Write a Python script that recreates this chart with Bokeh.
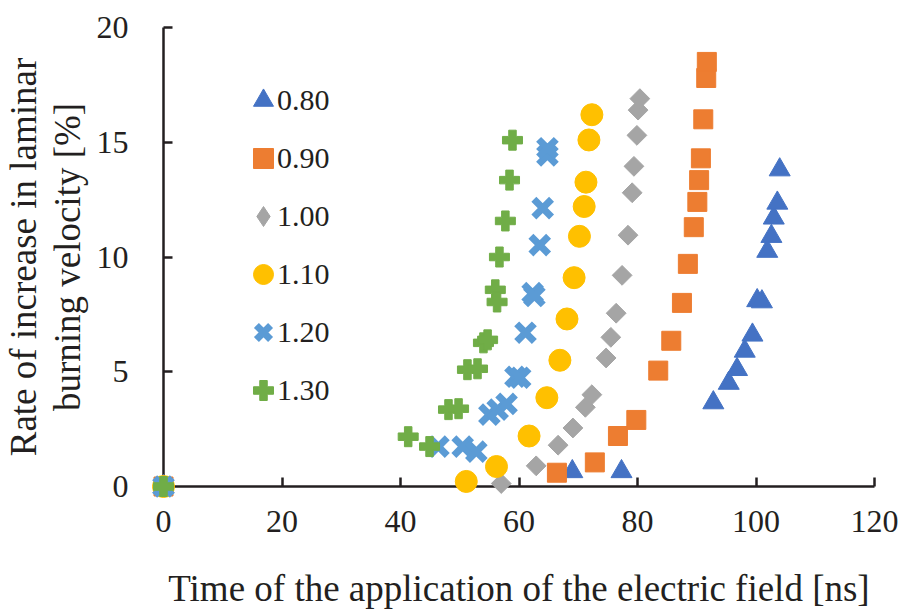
from bokeh.plotting import figure
from bokeh.models import Range1d, Legend, LegendItem, FixedTicker
from bokeh.embed import file_html
from bokeh.resources import INLINE
import numpy as np

# Time of application of the electric field [ns] and rate of increase [%]
# for each equivalence ratio
t_080 = [0, 69.0, 77.3, 92.8, 95.4, 96.8, 98.1, 99.4, 100.2, 101.0, 101.9, 102.6, 103.0, 103.6, 104.0]
r_080 = [0, 0.65, 0.65, 3.65, 4.5, 5.1, 5.9, 6.6, 8.1, 8.05, 10.25, 10.9, 11.7, 12.35, 13.8]

t_090 = [0, 66.4, 72.8, 76.7, 79.8, 83.5, 85.7, 87.5, 88.5, 89.5, 90.1, 90.4, 90.7, 91.1, 91.6, 91.7]
r_090 = [0, 0.6, 1.05, 2.2, 2.9, 5.05, 6.35, 8.0, 9.7, 11.3, 12.4, 13.35, 14.3, 16.0, 17.8, 18.5]

t_100 = [0, 57.0, 62.9, 66.6, 69.1, 71.2, 72.3, 74.7, 75.5, 76.4, 77.4, 78.4, 79.1, 79.4, 79.9, 80.1, 80.4]
r_100 = [0, 0.13, 0.9, 1.8, 2.55, 3.45, 4.0, 5.6, 6.5, 7.55, 9.2, 10.95, 12.8, 13.95, 15.3, 16.4, 16.9]

t_110 = [0, 51.1, 56.2, 61.7, 64.7, 66.9, 68.1, 69.3, 70.2, 71.0, 71.3, 71.8, 72.3]
r_110 = [0, 0.22, 0.87, 2.2, 3.87, 5.5, 7.3, 9.1, 10.9, 12.2, 13.26, 15.1, 16.2]

t_120 = [0, 46.4, 50.5, 52.8, 55.0, 56.4, 57.9, 59.4, 60.2, 61.1, 62.3, 62.6, 63.5, 64.0, 64.8, 64.8]
r_120 = [0, 1.74, 1.74, 1.52, 3.13, 3.35, 3.6, 4.78, 4.74, 6.7, 8.43, 8.3, 10.52, 12.13, 14.43, 14.74]

t_130 = [0, 41.3, 44.9, 48.1, 49.8, 51.3, 53.0, 54.0, 54.7, 56.0, 56.3, 56.7, 57.7, 58.4, 58.9]
r_130 = [0, 2.17, 1.74, 3.35, 3.39, 5.09, 5.13, 6.26, 6.39, 8.57, 8.04, 10.0, 11.57, 13.35, 15.09]

series_labels = ["0.80", "0.90", "1.00", "1.10", "1.20", "1.30"]
x_ticks = [0, 20, 40, 60, 80, 100, 120]
y_ticks = [0, 5, 10, 15, 20]

FONT = "Liberation Serif"
INK = "#231f20"

p = figure(width=898, height=611,
           x_range=Range1d(0, 120), y_range=Range1d(0, 20),
           output_backend="svg", toolbar_location=None,
           min_border_left=163, min_border_right=24,
           min_border_top=27, min_border_bottom=124)
p.outline_line_color = None
p.grid.visible = False
p.background_fill_color = "white"

styles = [
    dict(marker="triangle", size=21, color="#4472C4", angle=0.0, line_width=1),
    dict(marker="square", size=19, color="#ED7D31", angle=0.0, line_width=1),
    dict(marker="square", size=14, color="#A5A5A5", angle=np.pi / 4, line_width=1),
    dict(marker="circle", size=22, color="#FFC000", angle=0.0, line_width=1),
    dict(marker="x", size=25, color="#5B9BD5", angle=0.0, line_width=7),
    dict(marker="plus", size=20, color="#70AD47", angle=0.0, line_width=1),
]
data = [(t_080, r_080), (t_090, r_090), (t_100, r_100),
        (t_110, r_110), (t_120, r_120), (t_130, r_130)]

key_items = []
text_items = []
for (xs, ys), st, lab in zip(data, styles, series_labels):
    r = p.scatter(x=xs, y=ys, marker=st["marker"], size=st["size"],
                  angle=st["angle"], fill_color=st["color"],
                  line_color=st["color"], line_width=st["line_width"])
    r.level = "overlay"
    key = r
    if st["angle"] != 0.0:
        # legend glyphs are drawn unrotated, so the rotated square gets a diamond key
        key = p.scatter(x=[np.nan], y=[np.nan], marker="diamond", size=st["size"],
                        fill_color=st["color"], line_color=st["color"])
    key_items.append(LegendItem(label=" ", renderers=[key]))
    text_items.append(LegendItem(label=lab, renderers=[r]))

common = dict(orientation="vertical", glyph_height=50, spacing=8, padding=0,
              margin=0, label_text_font=FONT, label_text_font_size="30px",
              label_text_color=INK, background_fill_alpha=0,
              border_line_color=None)

# marker column of the legend
key_legend = Legend(items=key_items, location=(75, 71), glyph_width=50,
                    label_standoff=0, **common)
# label column of the legend
text_legend = Legend(items=text_items, location=(114, 71), glyph_width=0,
                     label_standoff=0, **common)
p.add_layout(key_legend)
p.add_layout(text_legend)

for ax in (p.xaxis, p.yaxis):
    ax.axis_line_color = INK
    ax.axis_line_width = 2.5
    ax.major_tick_line_color = INK
    ax.major_tick_line_width = 2.5
    ax.major_tick_in = 9
    ax.major_tick_out = 0
    ax.minor_tick_line_color = None
    ax.major_label_text_font = FONT
    ax.major_label_text_font_size = "32px"
    ax.major_label_text_color = INK
    ax.axis_label_text_font = FONT
    ax.axis_label_text_font_size = "37px"
    ax.axis_label_text_font_style = "normal"
    ax.axis_label_text_color = INK

p.xaxis.ticker = FixedTicker(ticks=x_ticks)
p.yaxis.ticker = FixedTicker(ticks=y_ticks)
p.xaxis.major_label_standoff = 24
p.yaxis.major_label_standoff = 35
p.xaxis.axis_label = "Time of the application of the electric field [ns]"
p.xaxis.axis_label_standoff = 33
p.yaxis.axis_label = "Rate of increase in laminar\nburning velocity [%]"
p.yaxis.axis_label_standoff = 6
p.yaxis.axis_label_text_line_height = 1.05

open("out.html", "w").write(file_html(p, INLINE))
